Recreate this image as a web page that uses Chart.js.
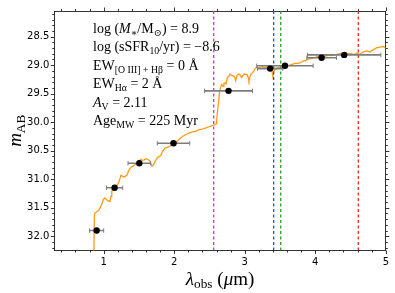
<!DOCTYPE html>
<html>
<head>
<meta charset="utf-8">
<script src="https://cdn.jsdelivr.net/npm/chart.js@4.4.1/dist/chart.umd.min.js"></script>
<style>
html,body{margin:0;padding:0;background:#fff;}
#c{display:block;}
</style>
</head>
<body>
<canvas id="c" width="395" height="293"></canvas>
<script>
// ---------- data ----------
const X_MIN = 0.3, X_MAX = 5.0;
const Y_MIN = 28.05, Y_MAX = 32.25;
const X_TICKS = [1, 2, 3, 4, 5];
const Y_TICKS = [28.5, 29.0, 29.5, 30.0, 30.5, 31.0, 31.5, 32.0];

// photometry (NIRCam bands)
const PHOT_LAMBDA = [0.90, 1.155, 1.505, 1.99, 2.77, 3.36, 3.57, 4.09, 4.41];
const PHOT_HALFWIDTH = [0.10, 0.115, 0.16, 0.23, 0.34, 0.18, 0.40, 0.21, 0.52];
const PHOT_MAG = [31.90, 31.15, 30.72, 30.37, 29.45, 29.06, 29.01, 28.87, 28.82];

// vertical line wavelengths
const VLINE_LAMBDA = [2.56, 3.41, 3.51, 4.61];
const VLINE_COLORS = ['#e81ce8', '#2a46ff', '#1fa31f', '#e8281e'];

// model spectrum
const SPEC_LAMBDA = [0.855,0.868,0.878,0.900,0.916,0.939,0.955,0.977,0.995,1.010,1.025,1.043,1.065,1.090,1.104,1.115,1.127,1.145,1.165,1.190,1.205,1.222,1.246,1.270,1.293,1.315,1.330,1.354,1.387,1.420,1.458,1.490,1.528,1.550,1.575,1.600,1.622,1.655,1.684,1.702,1.731,1.763,1.790,1.811,1.834,1.872,1.900,1.929,1.975,2.023,2.070,2.117,2.160,2.211,2.260,2.306,2.350,2.400,2.450,2.494,2.540,2.579,2.595,2.602,2.615,2.626,2.645,2.660,2.673,2.692,2.705,2.720,2.735,2.753,2.777,2.791,2.814,2.847,2.860,2.871,2.882,2.894,2.918,2.940,2.956,2.975,2.989,3.010,3.035,3.048,3.059,3.070,3.083,3.106,3.130,3.154,3.177,3.200,3.224,3.250,3.270,3.295,3.318,3.345,3.366,3.385,3.399,3.410,3.427,3.460,3.480,3.507,3.540,3.578,3.610,3.648,3.680,3.719,3.750,3.790,3.815,3.837,3.860,3.883,3.910,3.930,3.955,3.978,4.010,4.049,4.085,4.120,4.155,4.190,4.225,4.260,4.285,4.307,4.355,4.390,4.425,4.460,4.496,4.530,4.557,4.590,4.615,4.638,4.665,4.685,4.730,4.755,4.780,4.800,4.826,4.850,4.873,4.895,4.920,4.945,4.967,4.985,5.000];
const SPEC_MAG = [33.00,31.62,31.59,31.57,31.56,31.53,31.49,31.42,31.36,31.33,31.34,31.36,31.38,31.39,31.30,31.22,31.16,31.14,31.13,31.10,31.08,31.02,30.93,30.95,30.96,30.94,30.93,30.85,30.79,30.77,30.73,30.70,30.65,30.67,30.66,30.64,30.65,30.68,30.77,30.76,30.68,30.62,30.60,30.58,30.51,30.45,30.44,30.43,30.39,30.36,30.30,30.25,30.22,30.19,30.17,30.16,30.13,30.12,30.10,30.08,30.06,30.04,30.03,29.96,29.80,29.68,29.45,29.38,29.34,29.37,29.32,29.31,29.33,29.22,29.195,29.155,29.18,29.195,29.22,29.27,29.22,29.17,29.155,29.18,29.22,29.18,29.155,29.16,29.17,29.21,29.27,29.22,29.165,29.14,29.10,29.05,29.04,29.05,29.04,29.02,29.05,29.03,29.04,29.035,29.06,29.10,29.20,29.12,29.08,29.05,29.04,29.035,29.03,29.02,29.01,28.996,28.98,28.967,28.97,28.955,28.94,28.92,28.925,28.90,28.89,28.88,28.885,28.87,28.86,28.84,28.855,28.853,28.835,28.825,28.83,28.825,28.815,28.81,28.797,28.81,28.81,28.80,28.797,28.805,28.81,28.785,28.80,28.81,28.78,28.768,28.75,28.76,28.768,28.745,28.728,28.71,28.694,28.69,28.682,28.675,28.67,28.69,28.71];

// annotation text lines: [text, style] ; r=roman, i=italic, s=subscript
const ANNOT_LINES = [
  [['log (', 'r'], ['M', 'i'], ['\u2217', 's'], ['/M', 'r'], ['\u2299', 's'], [') = 8.9', 'r']],
  [['log (sSFR', 'r'], ['10', 's'], ['/yr) = \u22128.6', 'r']],
  [['EW', 'r'], ['[O III] + H\u03B2', 's'], [' = 0 \u00C5', 'r']],
  [['EW', 'r'], ['H\u03B1', 's'], [' = 2 \u00C5', 'r']],
  [['A', 'i'], ['V', 's'], [' = 2.11', 'r']],
  [['Age', 'r'], ['MW', 's'], [' = 225 Myr', 'r']]
];
const X_TITLE = [['\u03BB', 'i'], ['obs', 's'], [' (', 'r'], ['\u03BC', 'i'], ['m)', 'r']];
const Y_TITLE = [['m', 'i'], ['AB', 's']];

// ---------- helpers ----------
const SERIF = '"Liberation Serif", "DejaVu Serif", serif';
function drawRich(ctx, parts, x, y, size, align) {
  const sub = size * 0.7;
  const fontFor = st => st === 'i' ? `italic ${size}px ${SERIF}` : st === 's' ? `${sub}px ${SERIF}` : `${size}px ${SERIF}`;
  let w = 0;
  parts.forEach(([t, st]) => { ctx.font = fontFor(st); w += ctx.measureText(t).width; });
  let cx = align === 'center' ? x - w / 2 : x;
  ctx.textBaseline = 'alphabetic';
  ctx.textAlign = 'left';
  parts.forEach(([t, st]) => {
    ctx.font = fontFor(st);
    ctx.fillText(t, cx, st === 's' ? y + size * 0.2 : y);
    cx += ctx.measureText(t).width;
  });
  return w;
}

const decorPlugin = {
  id: 'decor',
  afterDraw(chart) {
    const ctx = chart.ctx;
    const a = chart.chartArea;
    const xs = chart.scales.x, ys = chart.scales.y;
    ctx.save();
    ctx.strokeStyle = '#000';
    ctx.lineWidth = 0.8;
    const xMinor = [], yMinor = [];
    for (let v = 0.4; v < X_MAX + 1e-9; v += 0.2) {
      const r = Math.round(v * 10) / 10;
      if (Math.abs(r - Math.round(r)) > 1e-6) xMinor.push(r);
    }
    for (let v = 28.1; v < Y_MAX; v += 0.1) {
      const r = Math.round(v * 10) / 10;
      if (Math.abs(r * 2 - Math.round(r * 2)) > 1e-6) yMinor.push(r);
    }
    ctx.beginPath();
    const tx = (vals, len) => vals.forEach(v => {
      const p = Math.round(xs.getPixelForValue(v)) + 0.5;
      ctx.moveTo(p, a.bottom); ctx.lineTo(p, a.bottom + len);
      ctx.moveTo(p, a.top); ctx.lineTo(p, a.top - len);
    });
    const ty = (vals, len) => vals.forEach(v => {
      const p = Math.round(ys.getPixelForValue(v)) + 0.5;
      ctx.moveTo(a.left, p); ctx.lineTo(a.left - len, p);
      ctx.moveTo(a.right, p); ctx.lineTo(a.right + len, p);
    });
    tx(X_TICKS, 3.5); tx(xMinor, 2);
    ty(Y_TICKS, 3.5); ty(yMinor, 2);
    ctx.stroke();

    ctx.fillStyle = '#000';
    const ax = a.left + 38.7;
    ANNOT_LINES.forEach((parts, i) => drawRich(ctx, parts, ax, a.top + 22 + i * 18.46, 14, 'left'));
    drawRich(ctx, X_TITLE, (a.left + a.right) / 2, a.bottom + 34, 19, 'center');
    ctx.save();
    ctx.translate(21, (a.top + a.bottom) / 2);
    ctx.rotate(-Math.PI / 2);
    drawRich(ctx, Y_TITLE, 0, 0, 19, 'center');
    ctx.restore();
    ctx.restore();
  }
};

// ---------- datasets ----------
const datasets = [];
datasets.push({
  type: 'scatter',
  data: PHOT_LAMBDA.map((x, i) => ({ x, y: PHOT_MAG[i] })),
  backgroundColor: '#000', borderColor: '#000', pointRadius: 3.2, pointBorderWidth: 0, order: 0
});
PHOT_LAMBDA.forEach((x, i) => {
  datasets.push({
    type: 'line',
    data: [{ x: x - PHOT_HALFWIDTH[i], y: PHOT_MAG[i] }, { x: x + PHOT_HALFWIDTH[i], y: PHOT_MAG[i] }],
    borderColor: '#7d7d7d', borderWidth: 1.6,
    pointStyle: 'line', rotation: 90, pointRadius: 2.2, pointBorderColor: '#7d7d7d', pointBorderWidth: 1,
    pointBackgroundColor: '#7d7d7d', order: 1
  });
});
VLINE_LAMBDA.forEach((x, i) => {
  datasets.push({
    type: 'line',
    data: [{ x, y: Y_MIN }, { x, y: Y_MAX }],
    borderColor: VLINE_COLORS[i], borderWidth: 1.3, borderDash: [3, 2.5],
    pointRadius: 0, order: 2
  });
});
datasets.push({
  type: 'line',
  data: SPEC_LAMBDA.map((x, i) => ({ x, y: SPEC_MAG[i] })),
  borderColor: '#ff9a16', borderWidth: 1.3, pointRadius: 0, tension: 0, order: 3
});

const tickFont = { family: '"DejaVu Sans", sans-serif', size: 10 };
new Chart(document.getElementById('c'), {
  type: 'line',
  data: { datasets },
  options: {
    responsive: false,
    animation: false,
    devicePixelRatio: 1,
    layout: { padding: 0 },
    plugins: { legend: { display: false }, tooltip: { enabled: false } },
    scales: {
      x: {
        type: 'linear', position: 'bottom', min: X_MIN, max: X_MAX,
        afterBuildTicks: s => { s.ticks = X_TICKS.map(v => ({ value: v })); },
        afterFit: s => { s.height = 42.5; },
        ticks: { color: '#000', font: tickFont, padding: 6, maxRotation: 0, callback: v => String(v) },
        grid: { drawOnChartArea: false, drawTicks: false },
        border: { color: '#000', width: 0.8 }
      },
      xTop: {
        type: 'linear', position: 'top', min: X_MIN, max: X_MAX,
        afterFit: s => { s.height = 5; },
        ticks: { display: false },
        grid: { drawOnChartArea: false, drawTicks: false },
        border: { color: '#000', width: 0.8 }
      },
      y: {
        type: 'linear', position: 'left', min: Y_MIN, max: Y_MAX, reverse: true,
        afterBuildTicks: s => { s.ticks = Y_TICKS.map(v => ({ value: v })); },
        afterFit: s => { s.width = 54.3; },
        ticks: { color: '#000', font: tickFont, padding: 5, callback: v => Number(v).toFixed(1) },
        grid: { drawOnChartArea: false, drawTicks: false },
        border: { color: '#000', width: 0.8 }
      },
      yRight: {
        type: 'linear', position: 'right', min: Y_MIN, max: Y_MAX, reverse: true,
        afterFit: s => { s.width = 7.7; },
        ticks: { display: false },
        grid: { drawOnChartArea: false, drawTicks: false },
        border: { color: '#000', width: 0.8 }
      }
    }
  },
  plugins: [decorPlugin]
});
</script>
</body>
</html>
